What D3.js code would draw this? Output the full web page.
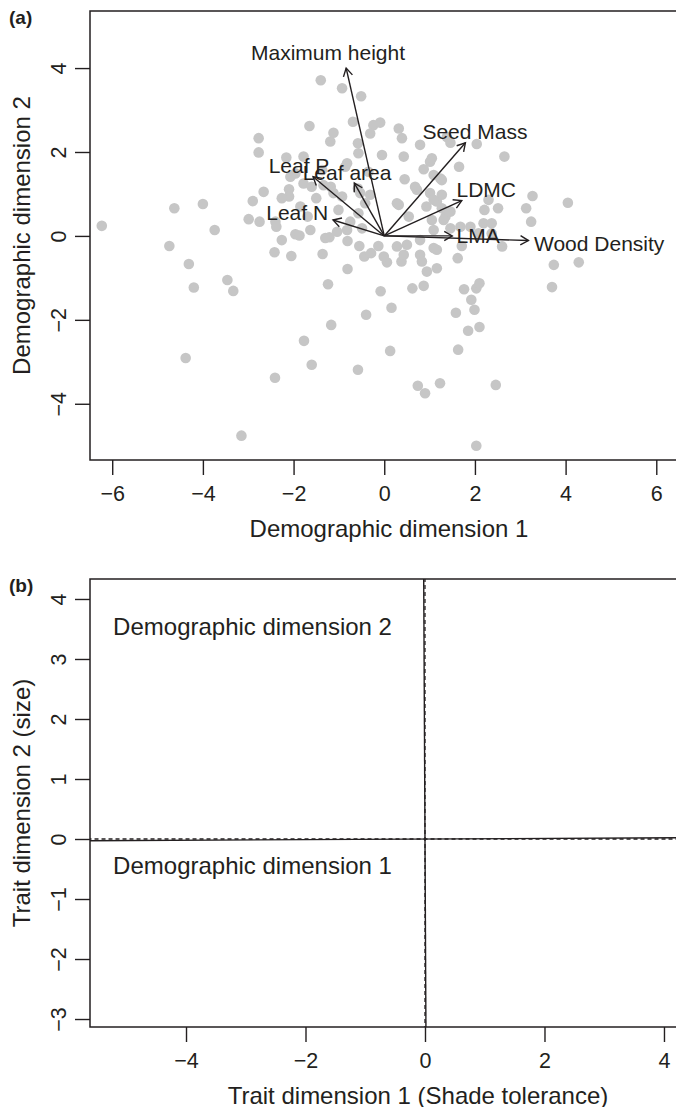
<!DOCTYPE html>
<html>
<head>
<meta charset="utf-8">
<script src="https://cdn.jsdelivr.net/npm/d3@7"></script>
<style>body{margin:0;background:#fff;}</style>
</head>
<body>
<svg width="676" height="1107"></svg>
<script>
// species scores on the two demographic dimensions (panel a)
var species = [
 [-6.23,0.24],[-4.63,0.66],[-4.00,0.76],[-3.74,0.14],[-4.74,-0.24],[-4.31,-0.67],[-4.20,-1.23],
 [-3.46,-1.05],[-3.33,-1.31],[-4.38,-2.91],[-3.15,-4.76],[-2.41,-3.38],[-1.77,-2.50],[-1.60,-3.07],
 [-1.17,-2.12],[-0.58,-3.19],[-0.40,-1.88],[-1.24,-1.15],[-0.08,-1.32],[0.62,-1.25],[0.87,-1.19],
 [1.76,-1.27],[2.03,-1.25],[2.10,-1.13],[1.92,-1.52],[1.99,-1.76],[1.58,-1.83],[1.85,-2.26],
 [2.10,-2.17],[3.70,-1.22],[0.16,-1.71],[0.13,-2.74],[1.63,-2.71],[0.74,-3.57],[0.90,-3.75],
 [1.23,-3.51],[2.46,-3.55],[2.03,-5.00],[3.74,-0.69],[4.29,-0.63],[2.65,1.89],[3.27,0.95],
 [4.05,0.79],[3.13,0.66],[3.24,0.34],[2.60,-0.25],[2.21,0.62],[2.51,0.66],[2.19,0.30],[2.37,0.30],
 [1.65,1.65],[2.04,2.19],[1.38,2.36],[0.79,2.17],[0.43,1.89],[1.01,1.77],[0.87,1.59],[0.45,1.35],
 [1.24,1.37],[0.72,1.10],[1.01,1.02],[1.27,0.98],[1.16,0.82],[0.93,0.70],[0.32,0.74],[0.54,0.46],
 [1.05,0.38],[1.35,0.46],[1.46,0.18],[1.68,0.22],[2.08,0.06],[1.71,-0.24],[1.62,-0.53],[1.16,-0.33],
 [0.79,-0.45],[0.83,-0.61],[0.38,-0.61],[0.06,-0.63],[-0.13,-0.24],[1.16,-0.77],[0.94,-0.85],
 [1.09,1.45],[1.27,1.33],[0.68,1.17],[1.09,0.86],[1.27,0.66],[1.46,0.58],[1.31,0.38],[1.09,0.14],
 [1.90,0.22],[2.30,0.86],[2.37,0.06],[1.09,-0.29],[0.79,-0.10],[0.50,-0.21],[-2.77,2.33],[-2.77,1.99],
 [-2.16,1.87],[-2.66,1.05],[-2.90,0.83],[-2.99,0.40],[-2.75,0.34],[-2.40,0.34],[-2.38,0.22],
 [-2.10,1.11],[-2.10,0.94],[-2.26,-0.10],[-2.42,-0.39],[-2.05,-0.48],[-1.96,0.04],[-1.87,0.01],
 [-1.69,0.46],[-1.85,0.70],[-1.96,1.49],[-1.78,1.25],[-1.60,1.17],[-1.50,0.90],[-1.37,1.57],
 [-1.18,1.17],[-1.01,0.62],[-1.36,-0.43],[-1.21,-0.03],[-1.04,0.10],[-0.81,-0.12],[-0.55,-0.24],
 [-0.44,-0.49],[-0.29,-0.41],[-0.81,-0.79],[-1.19,2.25],[-0.58,2.21],[-0.57,1.97],[-0.82,1.73],
 [-0.58,1.13],[-1.40,3.71],[-0.93,3.52],[-0.51,3.33],[-1.65,2.62],[-0.69,2.72],[-0.24,2.64],
 [-0.09,2.70],[-1.12,2.46],[-0.31,2.44],[0.32,2.56],[0.39,2.33],[1.46,2.22],[1.05,1.85],[-1.78,1.89],
 [-0.05,1.93],[-0.86,1.65],[-0.35,1.53],[-2.07,1.41],[-1.34,1.21],[-1.12,1.02],[-0.93,0.94],
 [-0.53,1.02],[-0.31,0.98],[-0.42,0.78],[0.28,0.78],[-2.26,0.90],[-0.57,0.54],[-0.75,0.34],
 [-0.49,0.18],[-0.82,0.14],[-1.30,-0.05],[-1.63,0.14],[0.28,-0.25],[0.43,-0.45],[-0.01,-0.49]
];

// trait vectors (panel a)
var traitNames = ["Maximum height","Seed Mass","Leaf P","Leaf area","Leaf N","LDMC","LMA","Wood Density"];
var traitEnds = [[-0.84,4.00],[1.79,2.22],[-1.57,1.41],[-0.66,1.26],[-1.13,0.38],[1.71,0.84],[1.50,0.00],[3.18,-0.11]];
var traitLabels = [[-1.24,4.36],[2.00,2.50],[-1.88,1.69],[-0.82,1.50],[-1.92,0.57],[2.25,1.10],[2.07,0.00],[4.74,-0.17]];

var xTicksA = [-6,-4,-2,0,2,4,6];
var yTicksA = [-4,-2,0,2,4];

// demographic dimensions in trait space (panel b)
var demoNames = ["Demographic dimension 1","Demographic dimension 2"];
var demoDirs = [[1,0.005],[-0.005,1]];
var demoLabels = [[-5.22,-0.58],[-5.22,3.40]];

var xTicksB = [-4,-2,0,2,4];
var yTicksB = [-3,-2,-1,0,1,2,3,4];

var svg = d3.select("svg");
var font = "'Liberation Sans', Arial, Helvetica, sans-serif";
var ink = "#231f20";
var fmt = function(d) { return d < 0 ? "\u2212" + Math.abs(d) : String(d); };

svg.append("defs").append("marker")
   .attr("id","head").attr("markerUnits","userSpaceOnUse")
   .attr("markerWidth",20).attr("markerHeight",20)
   .attr("refX",0).attr("refY",0).attr("viewBox","-10 -10 20 20")
   .attr("orient","auto")
   .append("path").attr("d","M -8,-4.6 L 0,0 L -8,4.6")
   .attr("fill","none").attr("stroke",ink).attr("stroke-width",1.4);

function panel(box, xd, yd, xt, yt, xlab, ylab, tag) {
    var x = d3.scaleLinear().domain(xd).range([box.l, box.r]);
    var y = d3.scaleLinear().domain(yd).range([box.b, box.t]);
    var g = svg.append("g");

    var ax = g.append("g").attr("transform","translate(0," + box.b + ")")
        .call(d3.axisBottom(x).tickValues(xt).tickSize(15).tickFormat(fmt));
    ax.select(".domain").remove();
    ax.selectAll("line").attr("stroke",ink).attr("stroke-width",1.4);
    ax.selectAll("text").attr("font-family",font).attr("font-size","21.5px")
      .attr("fill",ink).attr("y",26).attr("dy","0.71em");

    var ay = g.append("g").attr("transform","translate(" + box.l + ",0)")
        .call(d3.axisLeft(y).tickValues(yt).tickSize(15).tickFormat(fmt));
    ay.select(".domain").remove();
    ay.selectAll("line").attr("stroke",ink).attr("stroke-width",1.4);
    ay.selectAll("text").attr("font-family",font).attr("font-size","21.5px")
      .attr("fill",ink).attr("x",null).attr("dy",null)
      .attr("text-anchor","middle").attr("dominant-baseline","central")
      .attr("transform","translate(-31,0) rotate(-90)");

    g.append("text").attr("x",box.mid).attr("y",box.b + 68)
     .attr("text-anchor","middle").attr("dominant-baseline","central")
     .attr("font-family",font).attr("font-size","24px").attr("fill",ink).text(xlab);
    g.append("text").attr("transform","translate(21," + (box.t + box.b) / 2 + ") rotate(-90)")
     .attr("text-anchor","middle").attr("dominant-baseline","central")
     .attr("font-family",font).attr("font-size","24px").attr("fill",ink).text(ylab);
    g.append("text").attr("x",9).attr("y",box.t + 13)
     .attr("font-family",font).attr("font-size","19px").attr("font-weight","bold")
     .attr("fill",ink).text(tag);

    return {x: x, y: y, g: g};
}

// panel (a)
var A = panel({l:90, r:678.5, t:11, b:460, mid:389}, [-6.49,6.49], [-5.34,5.36],
              xTicksA, yTicksA, "Demographic dimension 1", "Demographic dimension 2", "(a)");

A.g.selectAll("circle").data(species).enter().append("circle")
   .attr("cx", function(d) { return A.x(d[0]); })
   .attr("cy", function(d) { return A.y(d[1]); })
   .attr("r", 5.3).attr("fill","#c6c6c6");

A.g.selectAll(".vec").data(traitEnds).enter().append("line").attr("class","vec")
   .attr("x1",A.x(0)).attr("y1",A.y(0))
   .attr("x2",function(d) { return A.x(d[0]); })
   .attr("y2",function(d) { return A.y(d[1]); })
   .attr("stroke",ink).attr("stroke-width",1.4).attr("marker-end","url(#head)");

A.g.selectAll(".tlab").data(traitLabels).enter().append("text").attr("class","tlab")
   .attr("x",function(d) { return A.x(d[0]); })
   .attr("y",function(d) { return A.y(d[1]); })
   .attr("text-anchor","middle").attr("dominant-baseline","central")
   .attr("font-family",font).attr("font-size","21px").attr("fill",ink)
   .text(function(d,i) { return traitNames[i]; });

A.g.append("rect").attr("x",90).attr("y",11).attr("width",588.5).attr("height",449)
   .attr("fill","none").attr("stroke",ink).attr("stroke-width",1.5);

// panel (b)
var B = panel({l:90, r:677, t:579, b:1027, mid:418}, [-5.607,4.218], [-3.133,4.333],
              xTicksB, yTicksB, "Trait dimension 1 (Shade tolerance)", "Trait dimension 2 (size)", "(b)");

svg.select("defs").append("clipPath").attr("id","clipB")
   .append("rect").attr("x",90).attr("y",579).attr("width",587).attr("height",448);

var lines = B.g.append("g").attr("clip-path","url(#clipB)");
lines.append("line").attr("x1",B.x(0)).attr("x2",B.x(0)).attr("y1",B.y(-4)).attr("y2",B.y(5))
     .attr("stroke",ink).attr("stroke-width",1.3).attr("stroke-dasharray","4,3");
lines.append("line").attr("x1",B.x(-6)).attr("x2",B.x(5)).attr("y1",B.y(0)).attr("y2",B.y(0))
     .attr("stroke",ink).attr("stroke-width",1.3).attr("stroke-dasharray","4,3");
lines.selectAll(".dim").data(demoDirs).enter().append("line").attr("class","dim")
     .attr("x1",function(d) { return B.x(-8 * d[0]); })
     .attr("y1",function(d) { return B.y(-8 * d[1]); })
     .attr("x2",function(d) { return B.x(8 * d[0]); })
     .attr("y2",function(d) { return B.y(8 * d[1]); })
     .attr("stroke",ink).attr("stroke-width",1.4);

B.g.selectAll(".dlab").data(demoLabels).enter().append("text").attr("class","dlab")
   .attr("x",function(d) { return B.x(d[0]); })
   .attr("y",function(d) { return B.y(d[1]); })
   .attr("font-family",font).attr("font-size","24px").attr("fill",ink)
   .text(function(d,i) { return demoNames[i]; });

B.g.append("rect").attr("x",90).attr("y",579).attr("width",587).attr("height",448)
   .attr("fill","none").attr("stroke",ink).attr("stroke-width",1.5);
</script>
</body>
</html>
